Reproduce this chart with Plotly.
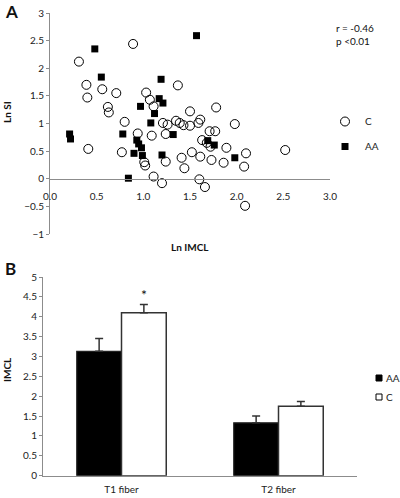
import plotly.graph_objects as go

# Panel A data (Ln IMCL vs Ln SI)
c_x = [0.89, 0.31, 1.37, 0.39, 0.40, 0.56, 0.71, 1.03, 1.07, 1.11, 0.62, 0.63, 1.50, 1.78,
       0.80, 1.21, 1.26, 1.35, 1.39, 1.43, 1.50, 1.59, 1.61, 1.98, 0.94, 1.09, 1.24, 0.41,
       0.77, 1.01, 1.02, 1.24, 1.41, 1.44, 1.52, 1.61, 1.73, 1.86, 1.89, 1.63, 1.68, 1.72,
       1.71, 1.77, 2.10, 2.08, 2.52, 1.11, 1.20, 1.60, 1.66, 2.09]
c_y = [2.44, 2.12, 1.69, 1.70, 1.47, 1.62, 1.55, 1.56, 1.43, 1.31, 1.30, 1.20, 1.22, 1.29,
       1.03, 1.01, 0.98, 1.05, 1.01, 0.97, 0.96, 1.01, 1.07, 0.99, 0.82, 0.78, 0.81, 0.54,
       0.48, 0.30, 0.24, 0.31, 0.38, 0.19, 0.48, 0.40, 0.34, 0.29, 0.56, 0.70, 0.65, 0.58,
       0.86, 0.86, 0.46, 0.22, 0.52, 0.04, -0.08, -0.01, -0.15, -0.49]
aa_x = [0.48, 1.57, 0.55, 1.19, 1.17, 1.21, 0.97, 1.12, 1.08, 0.21, 0.22, 0.78, 1.32,
        0.93, 0.95, 0.98, 0.90, 0.99, 1.20, 1.69, 1.76, 1.98, 0.84]
aa_y = [2.35, 2.59, 1.84, 1.80, 1.45, 1.37, 1.31, 1.18, 1.01, 0.81, 0.72, 0.81, 0.80,
        0.70, 0.63, 0.56, 0.46, 0.42, 0.43, 0.69, 0.61, 0.38, 0.01]
a_xticks = [0.0, 0.5, 1.0, 1.5, 2.0, 2.5, 3.0]
a_xticklabels = ["0.0", "0.5", "1.0", "1.5", "2.0", "2.5", "3.0"]
a_yticks = [-1, -0.5, 0, 0.5, 1, 1.5, 2, 2.5, 3]

# Panel B data
fibers = ["T1 fiber", "T2 fiber"]
imcl_aa = [3.13, 1.33]
imcl_aa_err = [0.32, 0.17]
imcl_c = [4.10, 1.75]
imcl_c_err = [0.21, 0.12]
b_yticks = [0, 0.5, 1, 1.5, 2, 2.5, 3, 3.5, 4, 4.5, 5]

FONT = "Lato"
GRAY = "#8c8c8c"
H = 498.0
W = 400.0

def py(px):
    return 1 - px / H

def pxx(px):
    return px / W

fig = go.Figure()

fig.add_trace(go.Scatter(x=c_x, y=c_y, mode="markers", name="C",
                         marker=dict(symbol="circle-open", size=9, color="black",
                                     line=dict(width=1, color="black")),
                         xaxis="x", yaxis="y", legendgroup="c"))
fig.add_trace(go.Scatter(x=aa_x, y=aa_y, mode="markers", name="AA",
                         marker=dict(symbol="square", size=7, color="black"),
                         xaxis="x", yaxis="y", legendgroup="aa"))

fig.add_trace(go.Bar(x=fibers, y=imcl_aa, name="AA", showlegend=False,
                     marker=dict(color="black", line=dict(color="#222", width=1.2)),
                     error_y=dict(type="data", symmetric=False, array=imcl_aa_err,
                                  arrayminus=[0, 0], color="#333", thickness=1.5, width=4),
                     xaxis="x2", yaxis="y2"))
fig.add_trace(go.Bar(x=fibers, y=imcl_c, name="C", showlegend=False,
                     marker=dict(color="white", line=dict(color="#333", width=1.5)),
                     error_y=dict(type="data", symmetric=False, array=imcl_c_err,
                                  arrayminus=[0, 0], color="#333", thickness=1.5, width=4),
                     xaxis="x2", yaxis="y2"))

a_top, a_bot = 13, 234
zero_px = 179
b_top, b_bot = 277, 475.7

fig.update_layout(
    width=400, height=498,
    margin=dict(l=0, r=0, t=0, b=0, autoexpand=False),
    paper_bgcolor="white", plot_bgcolor="white",
    font=dict(family=FONT, size=10, color="#222"),
    barmode="group", bargap=0.43, bargroupgap=0,
    xaxis=dict(domain=[50 / W, 330 / W], range=[0, 3], anchor="free",
               position=py(zero_px), showline=True, linecolor=GRAY, linewidth=1,
               tickvals=a_xticks, ticktext=a_xticklabels, ticks="", showgrid=False,
               zeroline=False, ticklabelstandoff=8, automargin=False),
    yaxis=dict(domain=[py(a_bot), py(a_top)], range=[-1, 3], anchor="x",
               showline=True, linecolor=GRAY, linewidth=1, tickvals=a_yticks,
               ticks="outside", ticklen=3, tickcolor=GRAY, showgrid=False, zeroline=False,
               automargin=False),
    xaxis2=dict(domain=[43 / W, 357 / W], anchor="y2", showline=True, linecolor=GRAY,
                linewidth=1, ticks="", showgrid=False, zeroline=False, ticklabelstandoff=4,
                automargin=False),
    yaxis2=dict(domain=[py(b_bot), py(b_top)], range=[0, 5], anchor="x2",
                showline=True, linecolor=GRAY, linewidth=1, tickvals=b_yticks,
                ticks="outside", ticklen=3, tickcolor=GRAY, showgrid=False, zeroline=False,
                automargin=False),
    legend=dict(x=pxx(325), y=py(107), xanchor="left", yanchor="top",
                font=dict(size=10), tracegroupgap=6, bgcolor="rgba(0,0,0,0)",
                itemwidth=30),
    showlegend=True,
)

# Panel B legend (manual, compact)
for ypx, fill, label in [(378, "black", "AA"), (397, "white", "C")]:
    fig.add_shape(type="rect", xref="paper", yref="paper",
                  x0=pxx(376), x1=pxx(382), y0=py(ypx + 3), y1=py(ypx - 3),
                  fillcolor=fill, line=dict(color="black", width=1))
    fig.add_annotation(text=label, x=pxx(384), y=py(ypx), xref="paper", yref="paper",
                       showarrow=False, xanchor="left", yanchor="middle",
                       font=dict(size=10))

def label(text, x, y, size=10, angle=0, xanchor="center", align="center"):
    fig.add_annotation(text=text, x=pxx(x), y=py(y), xref="paper", yref="paper",
                       showarrow=False, xanchor=xanchor, yanchor="middle",
                       textangle=angle, align=align,
                       font=dict(size=size, family=FONT, color="#111"))

label("<b>A</b>", 3, 12, size=17, xanchor="left")
label("<b>B</b>", 3, 268, size=17, xanchor="left")
label("<b>Ln SI</b>", 7, 112, angle=-90)
label("<b>Ln IMCL</b>", 190, 247)
label("r = -0.46<br>p <0.01", 334, 35, xanchor="left", align="left")
label("<b>IMCL</b>", 7, 370, angle=-90)

fig.add_annotation(text="*", x=0, y=imcl_c[0] + imcl_c_err[0], xref="x2", yref="y2",
                   xshift=22, yshift=10, showarrow=False, font=dict(size=14, color="#111"))

fig.write_html("out.html", config={"displayModeBar": False},
               post_script="document.body.style.margin='0';")
